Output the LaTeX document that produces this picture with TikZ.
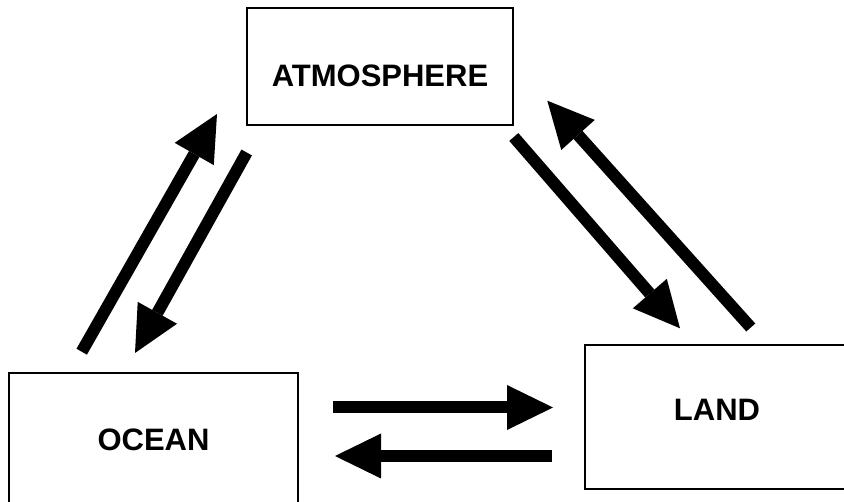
\documentclass[tikz,border=0pt]{standalone}
\usepackage{fontspec}
\setmainfont{Liberation Sans}
\usetikzlibrary{arrows.meta}
\begin{document}
\begin{tikzpicture}[x=1pt,y=-1pt,
  box/.style={draw=black,line width=1.2pt,inner sep=0pt,
    font=\fontsize{31}{36}\selectfont\bfseries,align=center},
  flow/.style={line width=12pt,line cap=butt,
    -{Triangle[length=46pt,width=45pt,line width=0pt]}}]
\useasboundingbox (0,0) rectangle (844,502);
\begin{scope}
\clip (0,0) rectangle (844,502);
\node[box,minimum width=266pt,minimum height=117pt,text height=41pt,text depth=0pt] (atm) at (380,66.5) {ATMOSPHERE};
\node[box,minimum width=289pt,minimum height=134pt,text height=22pt,text depth=0pt] (ocean) at (153.5,440) {OCEAN};
\node[box,minimum width=264pt,minimum height=144pt,text height=22pt,text depth=14pt] (land) at (717,417) {LAND};
\end{scope}
% arrow end points
\coordinate (oa1) at (81.7,351.7);
\coordinate (oa2) at (217,114);
\coordinate (ao1) at (246.7,152.5);
\coordinate (ao2) at (135,353);
\coordinate (al1) at (513.8,137);
\coordinate (al2) at (680,328.3);
\coordinate (la1) at (750.8,327.5);
\coordinate (la2) at (547.3,100.7);
\coordinate (ol1) at (333,407.5);
\coordinate (ol2) at (553,407.5);
\coordinate (lo1) at (552,456);
\coordinate (lo2) at (335,456);
\draw[flow] (oa1) -- (oa2);
\draw[flow] (ao1) -- (ao2);
\draw[flow] (al1) -- (al2);
\draw[flow] (la1) -- (la2);
\draw[flow] (ol1) -- (ol2);
\draw[flow] (lo1) -- (lo2);
\end{tikzpicture}
\end{document}
